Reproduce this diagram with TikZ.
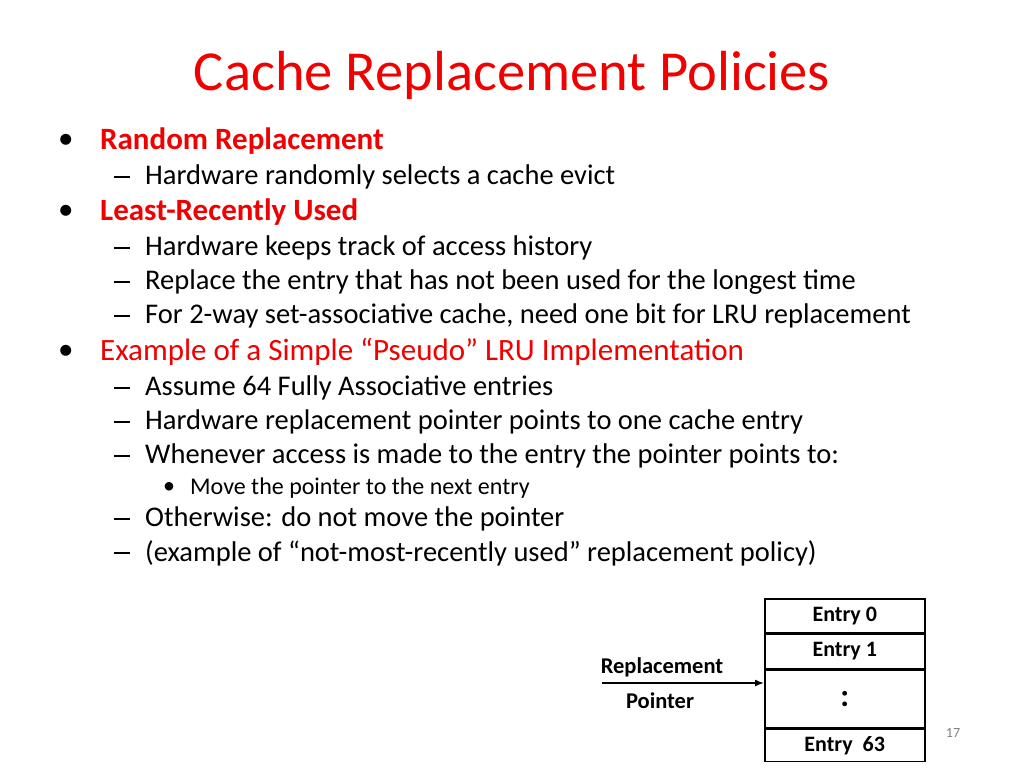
\documentclass[tikz,border=0pt]{standalone}
\usepackage{fontspec}
\setmainfont{Carlito}
\usetikzlibrary{arrows.meta}
\begin{document}
\begin{tikzpicture}[x=1pt,y=-1pt,
  l1/.style={anchor=west,font=\fontsize{31}{36}\selectfont,inner sep=0},
  l2/.style={anchor=west,font=\fontsize{28.5}{32}\selectfont,inner sep=0},
  l3/.style={anchor=west,font=\fontsize{24}{28}\selectfont,inner sep=0},
  cell/.style={draw,line width=1.5pt,minimum width=160pt,inner sep=0,font=\bfseries\fontsize{22}{26}\selectfont},
  lab/.style={font=\bfseries\fontsize{22.5}{26}\selectfont,inner sep=0}]
\definecolor{tred}{RGB}{240,0,0}
\useasboundingbox[fill=white] (0,0) rectangle (1024,768);
\node[text=tred,font=\fontsize{56.5}{62}\selectfont] (title) at (512,75) {Cache Replacement Policies};
\foreach \y/\t/\c in {141/{\bfseries Random Replacement}/1,212/{\bfseries Least-Recently Used}/2,352/{Example of a Simple “Pseudo” LRU Implementation}/3}{
  \node[l1] (b\c) at (58,\y) {•};
  \node[l1,text=tred] (t\c) at (100,\y) {\t};}
\foreach \y/\t [count=\i] in {177/Hardware randomly selects a cache evict,248/Hardware keeps track of access history,282/Replace the entry that has not been used for the longest time,316/{For 2-way set-associative cache, need one bit for LRU replacement},388/Assume 64 Fully Associative entries,422/Hardware replacement pointer points to one cache entry,456/Whenever access is made to the entry the pointer points to:,519/Otherwise: do not move the pointer,553/(example of “not-most-recently used” replacement policy)}{
  \node[anchor=west,inner sep=0] (d\i) at (114,\y) {\rule{16pt}{1.3pt}};
  \node[l2] (s\i) at (145,\y) {\t};}
\node[l3] (b4) at (163,488) {•};
\node[l3] (s10) at (190,488) {Move the pointer to the next entry};
\node[cell,minimum height=34pt,anchor=north west] (e0) at (764,598) {Entry 0};
\node[cell,minimum height=34pt,anchor=north] (e1) at (e0.south) {Entry 1};
\node[cell,minimum height=58pt,anchor=north,font=\bfseries\fontsize{32}{36}\selectfont] (ed) at (e1.south) {:};
\node[cell,minimum height=32pt,anchor=north] (e63) at (ed.south) {Entry\ \ 63};
\node[lab] (rep) at (662,667) {Replacement};
\node[lab] (ptr) at (660,701) {Pointer};
\coordinate (a0) at (602,683);
\draw[line width=1.5pt,-{Latex[length=9pt,width=7pt]}] (a0) -- (ed.west |- a0);
\node[text=gray,font=\fontsize{14}{16}\selectfont] (pg) at (953,733) {17};
\end{tikzpicture}
\end{document}
